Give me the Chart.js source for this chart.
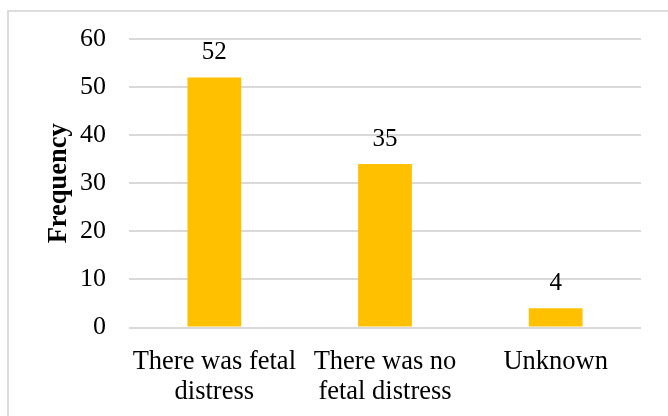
<!DOCTYPE html>
<html>
<head>
<meta charset="utf-8">
<script src="https://cdn.jsdelivr.net/npm/chart.js@4.4.0/dist/chart.umd.min.js"></script>
<style>
  body { margin: 0; background: #fff; }
  #frame { position: absolute; left: 7px; top: 10px; width: 700px; height: 500px; border: 2px solid #dcdcdc; }
  #wrap { position: absolute; left: 0; top: 0; width: 668px; height: 416px; }
</style>
</head>
<body>
<div id="frame"></div>
<div id="wrap"><canvas id="chart"></canvas></div>
<script>
// categories + values
let categories = [["There was fetal", "distress"], ["There was no", "fetal distress"], ["Unknown"]];
let counts = [52, 34, 4];
let valueLabels = ["52", "35", "4"];
let yTicks = [0, 10, 20, 30, 40, 50, 60];

let serif = "'Liberation Serif', 'Times New Roman', serif";

// labels above the bars
const barLabels = {
  id: "barLabels",
  afterDatasetsDraw(chart) {
    let ctx = chart.ctx;
    let meta = chart.getDatasetMeta(0);
    ctx.save();
    ctx.font = "25px " + serif;
    ctx.fillStyle = "#000";
    ctx.textAlign = "center";
    ctx.textBaseline = "alphabetic";
    meta.data.forEach(function (bar, i) {
      ctx.fillText(valueLabels[i], bar.x, bar.y - 18);
    });
    ctx.restore();
  }
};

new Chart(document.getElementById("chart"), {
  type: "bar",
  data: {
    labels: categories,
    datasets: [{
      data: counts,
      backgroundColor: "#FFC000",
      barPercentage: 1,
      categoryPercentage: 0.315
    }]
  },
  options: {
    responsive: true,
    maintainAspectRatio: false,
    animation: false,
    layout: { padding: { left: 43, right: 27, top: 39, bottom: 0 } },
    plugins: { legend: { display: false }, tooltip: { enabled: false } },
    scales: {
      x: {
        grid: { display: false },
        border: { display: false },
        ticks: {
          color: "#000",
          font: { family: serif, size: 26.5, lineHeight: 1.13 },
          padding: 12,
          maxRotation: 0,
          autoSkip: false
        },
        afterFit: function (s) { s.height = 88.5; }
      },
      y: {
        min: 0,
        max: 60,
        afterBuildTicks: function (s) { s.ticks = yTicks.map(v => ({ value: v })); },
        grid: { color: "#d9d9d9", lineWidth: 2, drawTicks: false },
        border: { display: false },
        ticks: {
          color: "#000",
          font: { family: serif, size: 26 },
          padding: 23
        },
        title: {
          display: true,
          text: "Frequency",
          color: "#000",
          font: { family: serif, size: 26.5, weight: "bold", lineHeight: 1.2 },
          padding: 0
        },
        afterFit: function (s) { s.width = 86; }
      }
    }
  },
  plugins: [barLabels]
});
</script>
</body>
</html>
